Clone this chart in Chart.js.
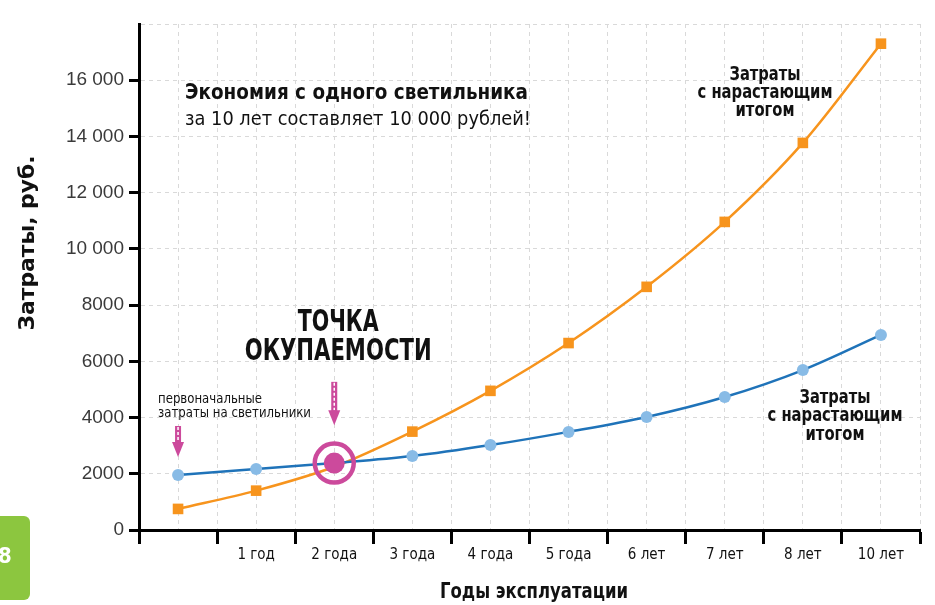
<!DOCTYPE html>
<html>
<head>
<meta charset="utf-8">
<script src="https://cdn.jsdelivr.net/npm/chart.js@4.4.0/dist/chart.umd.min.js"></script>
<style>
  html, body { margin: 0; padding: 0; background: #fff; }
  #wrap { width: 935px; height: 605px; }
</style>
</head>
<body>
<div id="wrap"><canvas id="paybackChart" width="935" height="605"></canvas></div>
<script>
// Данные графика
const years = ['', '1 год', '2 года', '3 года', '4 года', '5 года', '6 лет', '7 лет', '8 лет', '10 лет'];
const costOldLamps = [750, 1400, 2250, 3500, 4950, 6650, 8650, 10960, 13770, 17300];
const costNewLamps = [1960, 2170, 2380, 2630, 3020, 3490, 4020, 4730, 5690, 6940];
const breakEven = [2380];          // точка окупаемости, над "2 года"
const breakEvenYear = 2;
const yTickValues = [0, 2000, 4000, 6000, 8000, 10000, 12000, 14000, 16000];

const NARROW = "'DejaVu Sans Condensed', 'Liberation Sans Narrow', 'Arial Narrow', sans-serif";
const PINK = '#cc4a9c';
const ORANGE = '#f7941d';

function toPoints(values, start) {
    return values.map((v, i) => ({ x: start + i + 0.5, y: v }));
}

function fmtRub(v) {
    if (v >= 10000) {
        return Math.floor(v / 1000) + ' ' + String(v % 1000).padStart(3, '0');
    }
    return String(v);
}

// текст, сжатый по ширине (у оригинала узкий шрифт)
function fillFit(ctx, text, x, y, width, align) {
    const k = width / ctx.measureText(text).width;
    ctx.save();
    ctx.translate(x, y);
    ctx.scale(k, 1);
    ctx.textAlign = align;
    ctx.fillText(text, 0, 0);
    ctx.restore();
}

function drawArrow(ctx, x, yTop, yBottom) {
    const headH = 15;
    ctx.save();
    ctx.fillStyle = PINK;
    ctx.fillRect(x - 3, yTop, 6, yBottom - yTop - headH + 1);
    ctx.strokeStyle = '#fff';
    ctx.lineWidth = 1.5;
    ctx.setLineDash([3, 2]);
    ctx.beginPath();
    ctx.moveTo(x, yTop + 1);
    ctx.lineTo(x, yBottom - headH);
    ctx.stroke();
    ctx.setLineDash([]);
    ctx.beginPath();
    ctx.moveTo(x - 6, yBottom - headH);
    ctx.lineTo(x + 6, yBottom - headH);
    ctx.lineTo(x, yBottom);
    ctx.closePath();
    ctx.fill();
    ctx.restore();
}

const annotations = {
    id: 'annotations',
    afterDatasetsDraw(chart) {
        // точка окупаемости: кольцо и точка
        const ctx = chart.ctx;
        const x = chart.scales.x.getPixelForValue(breakEvenYear + 0.5);
        const y = chart.scales.y.getPixelForValue(breakEven[0]);
        ctx.save();
        ctx.strokeStyle = PINK;
        ctx.fillStyle = PINK;
        ctx.lineWidth = 4.5;
        ctx.beginPath();
        ctx.arc(x, y, 19.5, 0, Math.PI * 2);
        ctx.stroke();
        ctx.beginPath();
        ctx.arc(x, y, 10.5, 0, Math.PI * 2);
        ctx.fill();
        ctx.restore();
    },
    afterDraw(chart) {
        const ctx = chart.ctx;
        const xs = chart.scales.x;
        const ys = chart.scales.y;
        const px = v => xs.getPixelForValue(v);
        const py = v => ys.getPixelForValue(v);

        ctx.save();
        ctx.fillStyle = '#111';
        ctx.textBaseline = 'middle';

        // заголовок
        ctx.font = 'bold 22px ' + NARROW;
        fillFit(ctx, 'Экономия с одного светильника', 185, py(15550), 343, 'left');
        ctx.font = '19px ' + NARROW;
        fillFit(ctx, 'за 10 лет составляет 10 000 рублей!', 185, py(14590), 346, 'left');

        // точка окупаемости
        ctx.font = 'bold 31px ' + NARROW;
        fillFit(ctx, 'ТОЧКА', px(2.55), py(7370), 81, 'center');
        fillFit(ctx, 'ОКУПАЕМОСТИ', px(2.55), py(6330), 187, 'center');

        ctx.font = '14px ' + NARROW;
        fillFit(ctx, 'первоначальные', 158, py(4630), 104, 'left');
        fillFit(ctx, 'затраты на светильники', 158, py(4160), 153, 'left');

        // подписи серий
        ctx.font = 'bold 19px ' + NARROW;
        const lbl = ['Затраты', 'с нарастающим', 'итогом'];
        const lblW = [71, 135, 59];
        [16190, 15550, 14910].forEach((v, i) => fillFit(ctx, lbl[i], 765, py(v), lblW[i], 'center'));
        [4700, 4060, 3380].forEach((v, i) => fillFit(ctx, lbl[i], 835, py(v), lblW[i], 'center'));

        // подписи осей
        ctx.font = 'bold 22px ' + NARROW;
        fillFit(ctx, 'Годы эксплуатации', 534, 592, 188, 'center');
        ctx.save();
        ctx.translate(28, 243);
        ctx.rotate(-Math.PI / 2);
        fillFit(ctx, 'Затраты, руб.', 0, 0, 175, 'center');
        ctx.restore();

        // стрелки
        drawArrow(ctx, px(0.5), py(3700), py(2600));
        drawArrow(ctx, px(breakEvenYear + 0.5), py(5270), py(3730));

        // зелёная вкладка с номером страницы
        ctx.fillStyle = '#8cc63f';
        ctx.beginPath();
        ctx.roundRect(-10, 516, 40, 84, 6);
        ctx.fill();
        ctx.fillStyle = '#fff';
        ctx.font = 'bold 22px ' + NARROW;
        ctx.textAlign = 'left';
        ctx.fillText('8', -2, 557);
        ctx.restore();
    }
};

const ctx = document.getElementById('paybackChart');

new Chart(ctx, {
    type: 'line',
    data: {
        datasets: [
            {
                data: toPoints(costNewLamps, 0),
                borderColor: '#1f73b9',
                borderWidth: 2.5,
                pointStyle: 'circle',
                pointRadius: 6,
                pointBackgroundColor: '#88bbe6',
                pointBorderColor: '#88bbe6',
                pointBorderWidth: 0,
                cubicInterpolationMode: 'monotone',
                order: 1
            },
            {
                data: toPoints(costOldLamps, 0),
                borderColor: ORANGE,
                borderWidth: 2.5,
                pointStyle: 'rect',
                pointRadius: 7.5,
                pointBackgroundColor: ORANGE,
                pointBorderColor: ORANGE,
                pointBorderWidth: 0,
                cubicInterpolationMode: 'monotone',
                order: 2
            }
        ]
    },
    options: {
        responsive: false,
        animation: false,
        devicePixelRatio: 1,
        layout: {
            padding: { top: 24, right: 15, left: 0, bottom: 0 }
        },
        plugins: {
            legend: { display: false },
            tooltip: { enabled: false }
        },
        scales: {
            x: {
                type: 'linear',
                min: 0,
                max: years.length,
                afterFit: function(scale) { scale.height = 75; },
                grid: {
                    color: '#d9d9d9',
                    lineWidth: 1,
                    tickLength: 14,
                    tickWidth: 3,
                    tickColor: function(c) {
                        return Number.isInteger(c.tick.value) ? '#000' : 'rgba(0,0,0,0)';
                    }
                },
                border: { display: true, color: '#000', width: 3, dash: [4, 4] },
                ticks: {
                    stepSize: 0.5,
                    autoSkip: false,
                    maxRotation: 0,
                    padding: 2,
                    color: '#111',
                    font: { family: NARROW, size: 15 },
                    callback: function(value) {
                        return Number.isInteger(value) ? '' : years[Math.floor(value)];
                    }
                }
            },
            y: {
                min: 0,
                max: 18000,
                afterFit: function(scale) { scale.width = 139; },
                afterBuildTicks: function(scale) {
                    scale.ticks = yTickValues.concat([18000]).map(v => ({ value: v }));
                },
                grid: {
                    color: '#d9d9d9',
                    lineWidth: 1,
                    tickLength: 10,
                    tickWidth: 3,
                    tickColor: function(c) {
                        return yTickValues.includes(c.tick.value) ? '#000' : 'rgba(0,0,0,0)';
                    }
                },
                border: { display: true, color: '#000', width: 3, dash: [4, 4] },
                ticks: {
                    padding: 5,
                    color: '#3a3a3a',
                    font: { family: "'Liberation Sans', Arial, sans-serif", size: 19 },
                    callback: function(value) {
                        return yTickValues.includes(value) ? fmtRub(value) : '';
                    }
                }
            }
        }
    },
    plugins: [annotations]
});
</script>
</body>
</html>
